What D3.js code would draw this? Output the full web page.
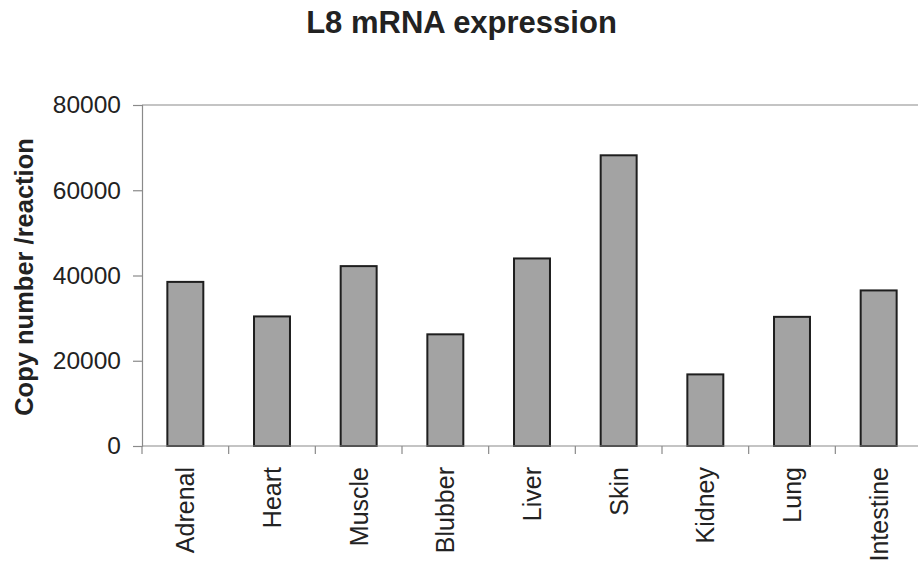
<!DOCTYPE html>
<html>
<head>
<meta charset="utf-8">
<script src="https://cdn.jsdelivr.net/npm/d3@7"></script>
<style>
  html, body { margin: 0; padding: 0; background: #fff; }
  svg { display: block; font-family: "Liberation Sans", Arial, sans-serif; }
</style>
</head>
<body>
<svg id="chart" width="918" height="565"></svg>
<script>
// Tissue categories and measured copy numbers
const tissues = ["Adrenal", "Heart", "Muscle", "Blubber", "Liver", "Skin", "Kidney", "Lung", "Intestine"];
const copyNumbers = [38500, 30400, 42200, 26200, 44000, 68200, 16800, 30300, 36500];
const yTicks = [0, 20000, 40000, 60000, 80000];

const svg = d3.select("#chart");
const margin = { left: 142, right: 922, top: 105, bottom: 446 };

const x = d3.scaleBand()
  .domain(tissues)
  .range([margin.left, margin.right])
  .paddingInner(0.585)
  .paddingOuter(0.2925);

const y = d3.scaleLinear()
  .domain([0, 80000])
  .range([margin.bottom, margin.top]);

// Plot frame (top border)
svg.append("line")
  .attr("x1", margin.left).attr("x2", margin.right)
  .attr("y1", margin.top).attr("y2", margin.top)
  .attr("stroke", "#8a8a8a").attr("stroke-width", 1.2);

// Bars
svg.append("g").selectAll("rect")
  .data(tissues)
  .join("rect")
  .attr("x", d => x(d))
  .attr("y", (d, i) => y(copyNumbers[i]))
  .attr("width", x.bandwidth())
  .attr("height", (d, i) => y(0) - y(copyNumbers[i]))
  .attr("fill", "#a3a3a3")
  .attr("stroke", "#1e1e1e")
  .attr("stroke-width", 2);

// Y axis
const yAxis = svg.append("g")
  .attr("transform", `translate(${margin.left},0)`)
  .call(d3.axisLeft(y).tickValues(yTicks).tickSize(9).tickPadding(12).tickFormat(d3.format("d")));
yAxis.select(".domain").attr("stroke", "#8a8a8a").attr("stroke-width", 1.2);
yAxis.selectAll(".tick line").attr("stroke", "#8a8a8a").attr("stroke-width", 1.2);
yAxis.selectAll(".tick text")
  .attr("font-size", 24.5)
  .attr("fill", "#222")
  .attr("font-family", "'Liberation Sans', Arial, sans-serif");

// X axis: ticks sit on category boundaries
const boundaries = d3.range(tissues.length + 1).map(i => margin.left + i * x.step());
svg.append("line")
  .attr("x1", margin.left).attr("x2", margin.right)
  .attr("y1", y(0)).attr("y2", y(0))
  .attr("stroke", "#8a8a8a").attr("stroke-width", 1.2);
svg.append("g").selectAll("line")
  .data(boundaries)
  .join("line")
  .attr("x1", d => d).attr("x2", d => d)
  .attr("y1", y(0)).attr("y2", y(0) + 8)
  .attr("stroke", "#8a8a8a").attr("stroke-width", 1.2);

// Category labels (rotated)
svg.append("g").selectAll("text")
  .data(tissues)
  .join("text")
  .attr("transform", d => `translate(${x(d) + x.bandwidth() / 2 + 9},${y(0) + 21}) rotate(-90)`)
  .attr("text-anchor", "end")
  .attr("font-size", 25)
  .attr("fill", "#222")
  .text(d => d);

// Y axis title
svg.append("text")
  .attr("transform", `translate(33,277) rotate(-90)`)
  .attr("text-anchor", "middle")
  .attr("font-size", 25.5)
  .attr("font-weight", "bold")
  .attr("fill", "#222")
  .text("Copy number /reaction");

// Chart title
svg.append("text")
  .attr("x", 461.5)
  .attr("y", 33)
  .attr("text-anchor", "middle")
  .attr("font-size", 31)
  .attr("font-weight", "bold")
  .attr("fill", "#222")
  .text("L8 mRNA expression");
</script>
</body>
</html>
